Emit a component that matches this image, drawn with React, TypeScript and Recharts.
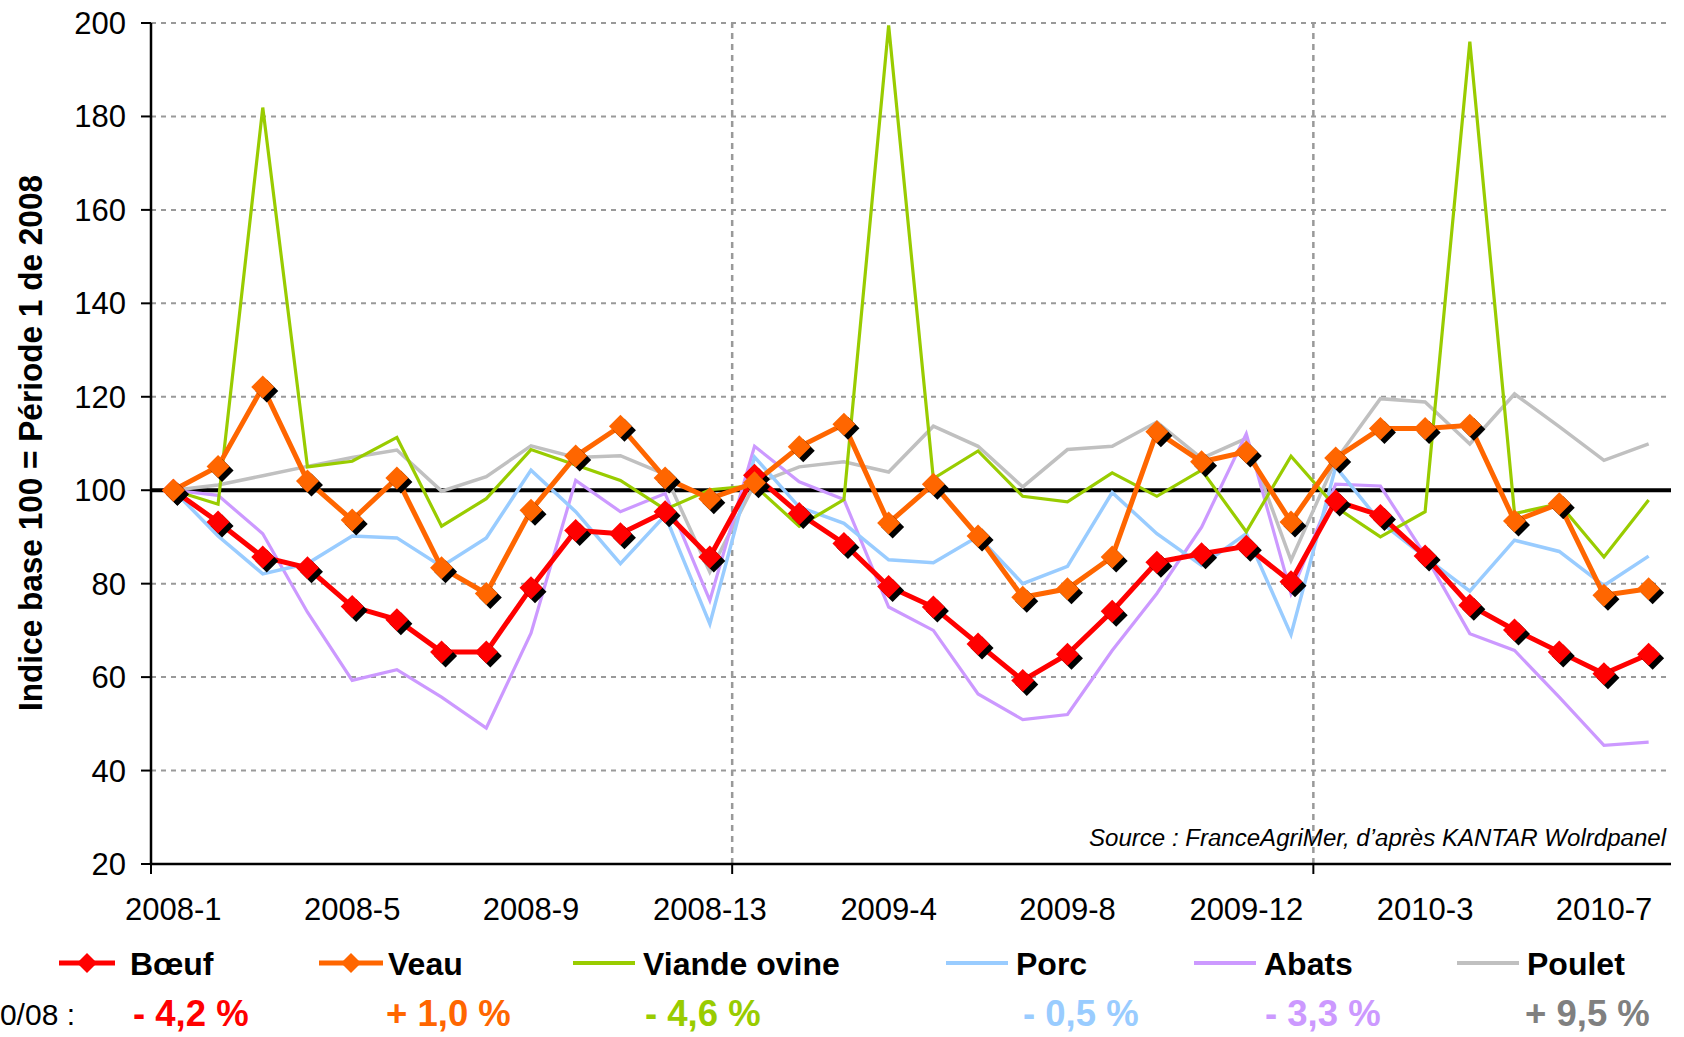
import React from 'react';
import { LineChart, Line, XAxis, YAxis, CartesianGrid, ReferenceLine } from 'recharts';

// ---------- DATA ----------
const categories = [
  '2008-1', '2008-2', '2008-3', '2008-4', '2008-5', '2008-6', '2008-7', '2008-8', '2008-9', '2008-10', '2008-11', '2008-12', '2008-13',
  '2009-1', '2009-2', '2009-3', '2009-4', '2009-5', '2009-6', '2009-7', '2009-8', '2009-9', '2009-10', '2009-11', '2009-12', '2009-13',
  '2010-1', '2010-2', '2010-3', '2010-4', '2010-5', '2010-6', '2010-7', '2010-8',
];

const labelCategories = ['2008-1', '2008-5', '2008-9', '2008-13', '2009-4', '2009-8', '2009-12', '2010-3', '2010-7'];
const yearEnds = ['2008-13', '2009-13'];
const yTicks = [20, 40, 60, 80, 100, 120, 140, 160, 180, 200];
const baseValue = 100;

const boeuf = [100, 93.2, 85.7, 83.4, 75.1, 72.3, 65.4, 65.4, 79.1, 91.4, 90.7, 95.4, 85.7, 103.2, 95, 88.6, 79.4, 75, 67.1, 59.3, 64.9, 74.1, 84.6, 86.4, 88, 80.4, 97.7, 94.6, 85.9, 75.4, 70.1, 65.4, 60.7, 64.9];
const veau = [100, 105.1, 122.1, 102, 93.6, 102.6, 83.4, 77.9, 95.7, 107.3, 113.7, 102.6, 98.2, 101.6, 109.3, 114.1, 93, 101.3, 90.2, 77.1, 78.9, 85.7, 112.5, 106.1, 108.2, 93.2, 106.9, 113.2, 113.2, 113.9, 93.4, 97.1, 77.5, 78.9];
const ovine = [100, 97, 181.9, 105, 106.2, 111.3, 92.3, 98.2, 108.7, 105.4, 102.1, 95.9, 100.1, 101, 92.3, 98, 199.5, 102.5, 108.4, 98.7, 97.5, 103.7, 98.7, 104.3, 91.1, 107.3, 96.4, 90, 95.4, 196, 95, 97.1, 85.7, 97.9];
const porc = [100, 90.2, 82.1, 84.3, 90.2, 89.8, 83.7, 89.8, 104.3, 95.4, 84.3, 94.6, 71.4, 107.1, 96.4, 92.9, 85.1, 84.5, 90.1, 80, 83.7, 99.5, 90.7, 83.9, 90.7, 69.1, 105, 93.2, 85.7, 78.4, 89.3, 86.9, 79.6, 85.9];
const abats = [100, 98.9, 90.7, 73.9, 59.3, 61.6, 55.7, 49.1, 69.4, 102.1, 95.4, 99.3, 76.4, 109.4, 101.8, 98, 75, 70, 56.4, 50.9, 52, 65.7, 77.9, 92.1, 112.1, 77.9, 101.3, 100.9, 86.1, 69.3, 65.7, 55.7, 45.4, 46.1];
const poulet = [100, 101.1, 103.1, 105.1, 107, 108.6, 99.8, 102.9, 109.5, 107, 107.4, 103.4, 82.5, 101.3, 105, 106.1, 103.9, 113.7, 109.4, 100.7, 108.7, 109.4, 114.6, 106.8, 111.1, 85, 106.4, 119.6, 118.9, 109.9, 120.6, 113.6, 106.4, 109.9];

const seriesKeys = ['boeuf', 'veau', 'ovine', 'porc', 'abats', 'poulet'];
const seriesNames = ['Bœuf', 'Veau', 'Viande ovine', 'Porc', 'Abats', 'Poulet'];
const seriesChanges = ['- 4,2 %', '+ 1,0 %', '- 4,6 %', '- 0,5 %', '- 3,3 %', '+ 9,5 %'];
const seriesValues = [boeuf, veau, ovine, porc, abats, poulet];

const yAxisTitle = 'Indice base 100 = Période 1 de 2008';
const sourceText = 'Source : FranceAgriMer, d’après KANTAR Wolrdpanel';
const changeRowLabel = '0/08 :';

// ---------- STYLES ----------
const FONT = '"Liberation Sans", Arial, Helvetica, sans-serif';
const styles: Record<string, { color: string; width: number; marker: boolean; pctColor: string }> = {
  boeuf: { color: '#FF0000', width: 5, marker: true, pctColor: '#FF0000' },
  veau: { color: '#FF6600', width: 5, marker: true, pctColor: '#FF6600' },
  ovine: { color: '#99CC00', width: 3.2, marker: false, pctColor: '#99CC00' },
  porc: { color: '#99CCFF', width: 3.5, marker: false, pctColor: '#99CCFF' },
  abats: { color: '#CC99FF', width: 3.2, marker: false, pctColor: '#CC99FF' },
  poulet: { color: '#C0C0C0', width: 3.5, marker: false, pctColor: '#808080' },
};
const drawOrder = ['poulet', 'abats', 'porc', 'ovine', 'boeuf', 'veau'];
const legendLayout = [
  { x1: 59, x2: 115, tx: 130, px: 133 },
  { x1: 319, x2: 383, tx: 388, px: 386 },
  { x1: 573, x2: 635, tx: 643, px: 645 },
  { x1: 946, x2: 1008, tx: 1016, px: 1023 },
  { x1: 1194, x2: 1256, tx: 1264, px: 1265 },
  { x1: 1457, x2: 1519, tx: 1527, px: 1525 },
];

const W = 1684;
const H = 1037;
const MARK_R = 11.5;
const SHADOW = 4;
const TICK_FONT = 31;

// ---------- BUILD TABLE ----------
const data = categories.map((c, i) => {
  const row: Record<string, number | string> = { x: i + 0.5, period: c };
  seriesKeys.forEach((k, si) => {
    row[k] = seriesValues[si][i];
  });
  return row;
});

const labelTicks = labelCategories.map((c) => categories.indexOf(c) + 0.5);
const breakPositions = yearEnds.map((c) => categories.indexOf(c) + 1);
const markTicks = [0, ...breakPositions];
const xTicks = [...markTicks, ...labelTicks];

const diamond = (cx: number, cy: number, r: number) =>
  `M${cx},${cy - r} L${cx + r},${cy} L${cx},${cy + r} L${cx - r},${cy} Z`;

const makeDot = (color: string) => (props: any) => {
  const { cx, cy, index } = props;
  if (cx == null || cy == null) return <g key={`d-${index}`} />;
  return (
    <g key={`d-${index}`}>
      <path d={diamond(cx + SHADOW, cy + SHADOW, MARK_R)} fill="#000" />
      <path d={diamond(cx, cy, MARK_R)} fill={color} />
    </g>
  );
};

const XTick = (props: any) => {
  const { x, y, payload } = props;
  const v = payload.value as number;
  if (Number.isInteger(v)) {
    return <line x1={x} x2={x} y1={y} y2={y + 10} stroke="#000" strokeWidth={2} />;
  }
  const label = categories[Math.floor(v)];
  return (
    <text x={x} y={y + 56} textAnchor="middle" fontFamily={FONT} fontSize={TICK_FONT} fill="#000">
      {label}
    </text>
  );
};

const YTick = (props: any) => {
  const { x, y, payload } = props;
  return (
    <g>
      <line x1={x - 10} x2={x} y1={y} y2={y} stroke="#000" strokeWidth={2} />
      <text x={x - 25} y={y + 11} textAnchor="end" fontFamily={FONT} fontSize={TICK_FONT} fill="#000">
        {payload.value}
      </text>
    </g>
  );
};

export default function App() {
  return (
    <div style={{ position: 'absolute', left: 0, top: 0, width: W, height: H, background: '#fff' }}>
      <LineChart width={W} height={H} data={data} margin={{ top: 23, right: 13, bottom: 0, left: 0 }}>
        <CartesianGrid vertical={false} stroke="#999999" strokeDasharray="5 5" strokeWidth={2} />
        {breakPositions.map((p) => (
          <ReferenceLine key={`b-${p}`} x={p} stroke="#999999" strokeWidth={2.5} strokeDasharray="6 5" />
        ))}
        <XAxis
          type="number"
          dataKey="x"
          domain={[0, categories.length]}
          ticks={xTicks}
          interval={0}
          tickLine={false}
          tickSize={0}
          tickMargin={0}
          axisLine={{ stroke: '#000', strokeWidth: 2.5 }}
          height={173}
          tick={XTick}
        />
        <YAxis
          type="number"
          domain={[20, 200]}
          ticks={yTicks}
          interval={0}
          width={151}
          tickLine={false}
          tickSize={0}
          tickMargin={0}
          axisLine={{ stroke: '#000', strokeWidth: 2.5 }}
          tick={YTick}
        />
        <ReferenceLine y={baseValue} stroke="#000" strokeWidth={4} />
        {drawOrder.map((k) => {
          const s = styles[k];
          return (
            <Line
              key={k}
              type="linear"
              dataKey={k}
              stroke={s.color}
              strokeWidth={s.width}
              dot={s.marker ? makeDot(s.color) : false}
              activeDot={false}
              isAnimationActive={false}
            />
          );
        })}
      </LineChart>
      <svg
        width={W}
        height={H}
        style={{ position: 'absolute', left: 0, top: 0, pointerEvents: 'none' }}
      >
        <text
          x={42}
          y={443}
          transform="rotate(-90 42 443)"
          textAnchor="middle"
          fontFamily={FONT}
          fontWeight="bold"
          fontSize={33}
          textLength={536}
          lengthAdjust="spacingAndGlyphs"
          fill="#000"
        >
          {yAxisTitle}
        </text>
        <text
          x={1089}
          y={846}
          fontFamily={FONT}
          fontStyle="italic"
          fontSize={23}
          textLength={577}
          lengthAdjust="spacingAndGlyphs"
          fill="#000"
        >
          {sourceText}
        </text>
        {seriesKeys.map((k, i) => {
          const s = styles[k];
          const L = legendLayout[i];
          const cy = 963;
          return (
            <g key={`lg-${k}`}>
              <line x1={L.x1} x2={L.x2} y1={cy} y2={cy} stroke={s.color} strokeWidth={s.marker ? 5 : 4} />
              {s.marker && <path d={diamond((L.x1 + L.x2) / 2, cy, 10)} fill={s.color} />}
              <text x={L.tx} y={975} fontFamily={FONT} fontWeight="bold" fontSize={32} fill="#000">
                {seriesNames[i]}
              </text>
              <text x={L.px} y={1026} fontFamily={FONT} fontWeight="bold" fontSize={36.5} fill={s.pctColor}>
                {seriesChanges[i]}
              </text>
            </g>
          );
        })}
        <text x={75} y={1025} textAnchor="end" fontFamily={FONT} fontSize={30} fill="#000">
          {changeRowLabel}
        </text>
      </svg>
    </div>
  );
}
